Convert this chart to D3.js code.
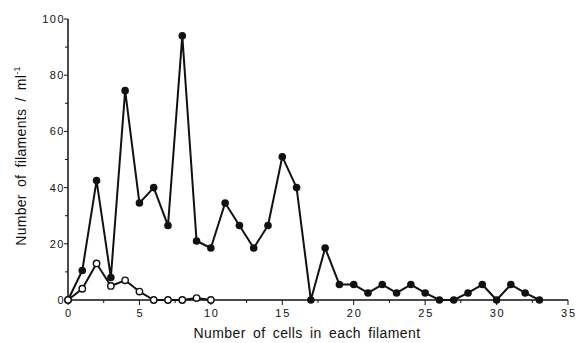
<!DOCTYPE html>
<html>
<head>
<meta charset="utf-8">
<script src="https://cdn.jsdelivr.net/npm/d3@7"></script>
<style>
  body { margin: 0; background: #fff; }
  text { font-family: "Liberation Sans", Arial, sans-serif; fill: #111; }
</style>
</head>
<body>
<div id="chart"></div>
<script>
// Data
const cells = d3.range(0, 34);
const filledValues = [0, 10.5, 42.5, 8, 74.5, 34.5, 40, 26.5, 94, 21, 18.5, 34.5, 26.5, 18.5, 26.5, 51, 40, 0,
    18.5, 5.5, 5.5, 2.5, 5.5, 2.5, 5.5, 2.5, 0, 0, 2.5, 5.5, 0, 5.5, 2.5, 0];
const openCells = d3.range(0, 11);
const openValues = [0, 4, 13, 5, 7, 3, 0, 0, 0, 0.7, 0];
const xTickLabels = [0, 5, 10, 15, 20, 25, 30, 35];
const yTickLabels = [0, 20, 40, 60, 80, 100];

const width = 583, height = 343;
const margin = {left: 68, right: 15, top: 19, bottom: 43};

const svg = d3.select("#chart").append("svg")
    .attr("width", width)
    .attr("height", height);

const x = d3.scaleLinear().domain([0, 35]).range([margin.left, width - margin.right]);
const y = d3.scaleLinear().domain([0, 100]).range([height - margin.bottom, margin.top]);

// x axis
const xAxis = svg.append("g").attr("transform", `translate(0,${y(0)})`);
xAxis.append("line")
    .attr("x1", x(0)).attr("x2", x(35))
    .attr("stroke", "#111").attr("stroke-width", 1.5);
xAxis.selectAll(".minor").data(d3.range(2.5, 35, 5)).enter().append("line")
    .attr("x1", d => x(d)).attr("x2", d => x(d))
    .attr("y1", 0).attr("y2", 3)
    .attr("stroke", "#111");
xAxis.selectAll(".major").data(xTickLabels).enter().append("line")
    .attr("x1", d => x(d)).attr("x2", d => x(d))
    .attr("y1", 0).attr("y2", 5)
    .attr("stroke", "#111");
xAxis.selectAll("text").data(xTickLabels).enter().append("text")
    .attr("x", d => x(d) + 1)
    .attr("y", 17)
    .attr("text-anchor", "middle")
    .attr("font-size", 11)
    .style("letter-spacing", "1.8px")
    .text(d => d);

// y axis
const yAxis = svg.append("g").attr("transform", `translate(${x(0)},0)`);
yAxis.append("line")
    .attr("y1", y(0)).attr("y2", y(100))
    .attr("stroke", "#111").attr("stroke-width", 1.5);
yAxis.selectAll(".minor").data(d3.range(10, 100, 20)).enter().append("line")
    .attr("y1", d => y(d)).attr("y2", d => y(d))
    .attr("x1", 0).attr("x2", -3)
    .attr("stroke", "#111");
yAxis.selectAll(".major").data(yTickLabels).enter().append("line")
    .attr("y1", d => y(d)).attr("y2", d => y(d))
    .attr("x1", 0).attr("x2", -4)
    .attr("stroke", "#111");
yAxis.selectAll("text").data(yTickLabels).enter().append("text")
    .attr("x", -3)
    .attr("y", d => y(d) + 4)
    .attr("text-anchor", "end")
    .attr("font-size", 11)
    .style("letter-spacing", "1.5px")
    .text(d => d);

// axis titles
svg.append("text")
    .attr("x", 307).attr("y", 338)
    .attr("text-anchor", "middle")
    .attr("font-size", 14)
    .style("letter-spacing", "0.4px")
    .style("word-spacing", "3px")
    .text("Number of cells in each filament");

const yt = svg.append("text")
    .attr("transform", `translate(26,156) rotate(-90)`)
    .attr("text-anchor", "middle")
    .attr("font-size", 14)
    .style("letter-spacing", "0.3px")
    .style("word-spacing", "3px");
yt.append("tspan").text("Number of filaments / ml");
yt.append("tspan").attr("dy", -6).attr("font-size", 9).text("-1");

// lines
const line = d3.line().x(d => x(d[0])).y(d => y(d[1]));
const filled = cells.map((c, i) => [c, filledValues[i]]);
const open = openCells.map((c, i) => [c, openValues[i]]);

svg.append("path").datum(filled)
    .attr("d", line).attr("fill", "none")
    .attr("stroke", "#111").attr("stroke-width", 2).attr("stroke-linejoin", "round");
svg.append("path").datum(open)
    .attr("d", line).attr("fill", "none")
    .attr("stroke", "#111").attr("stroke-width", 2).attr("stroke-linejoin", "round");

svg.selectAll(".dot-filled").data(filled).enter().append("circle")
    .attr("cx", d => x(d[0])).attr("cy", d => y(d[1]))
    .attr("r", 3.8).attr("fill", "#111");
svg.selectAll(".dot-open").data(open).enter().append("circle")
    .attr("cx", d => x(d[0])).attr("cy", d => y(d[1]))
    .attr("r", 3.2).attr("fill", "#fff")
    .attr("stroke", "#111").attr("stroke-width", 1.4);
</script>
</body>
</html>
